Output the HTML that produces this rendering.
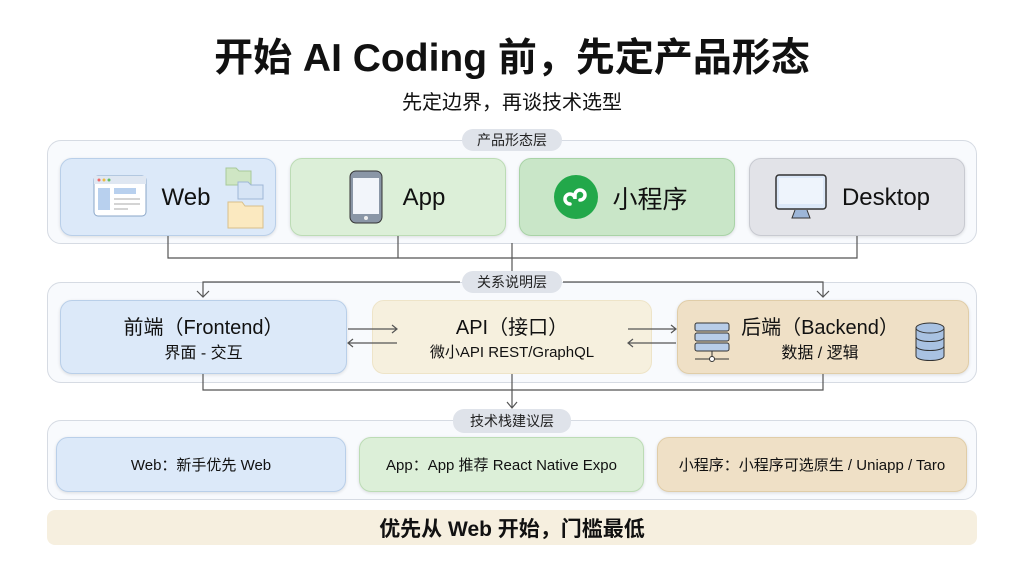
<!DOCTYPE html>
<html><head><meta charset="utf-8"><style>
*{margin:0;padding:0;box-sizing:border-box}
body{width:1024px;height:572px;background:#fff;position:relative;overflow:hidden;font-family:"Liberation Sans","Noto Sans CJK SC",sans-serif;color:#111}
.a{position:absolute}
.t{display:flex;align-items:center;justify-content:center;text-align:center}
.box{position:absolute;border:1px solid #d6dbe3;border-radius:14px;background:#f8fafd}
.card{position:absolute;border-radius:12px;box-shadow:0 1px 3px rgba(0,0,0,.12)}
.pill{position:absolute;height:22px;border-radius:11px;background:#dfe3ea;font-size:14px;display:flex;align-items:center;justify-content:center;color:#222;z-index:3}
.blue{background:#dce9f9;border:1px solid #b9cfe9}
.green{background:#dcefd8;border:1px solid #bcdcb5}
.green2{background:#c9e6c8;border:1px solid #a9d3a7}
.gray{background:#e2e3e8;border:1px solid #c8cad1}
.cream{background:#f6f0de;border:1px solid #eee4c8}
.tan{background:#efe0c6;border:1px solid #e0cda8}
</style></head><body>
<div class="a t" style="left:0;top:31px;width:1024px;height:48px;font-size:39px;font-weight:bold">开始 AI Coding 前，先定产品形态</div>
<div class="a t" style="left:0;top:87px;width:1024px;height:26px;font-size:20px">先定边界，再谈技术选型</div>

<svg class="a" style="left:0;top:0;z-index:2" width="1024" height="572">
<g stroke="#555" stroke-width="1.2" fill="none">
<path d="M168 236V258H857V236M398 236V258M512 243V272"/>
<path d="M460 282H203V297M563 282H823V297"/>
<path d="M197 291l6 6 6-6M817 291l6 6 6-6"/>
<path d="M348 329H397M392 325l5 4-5 4M397 343H348M353 339l-5 4 5 4"/>
<path d="M628 329H676M671 325l5 4-5 4M676 343H628M633 339l-5 4 5 4"/>
<path d="M203 374V390H823V374M512 374V408M507 402l5 6 5-6"/>
</g></svg>

<div class="box" style="left:47px;top:140px;width:930px;height:104px"></div>
<div class="pill" style="left:462px;top:129px;width:100px">产品形态层</div>
<div class="card blue" style="left:60px;top:158px;width:216px;height:78px"></div>
<svg class="a" style="left:93px;top:175px" width="54" height="44"><rect x="1" y="1" width="52" height="40" rx="4" fill="#fff" stroke="#8aa6c8"/><rect x="1" y="1" width="52" height="8" fill="#dfe7f2"/><circle cx="6" cy="5" r="1.5" fill="#e66"/><circle cx="11" cy="5" r="1.5" fill="#eb4"/><circle cx="16" cy="5" r="1.5" fill="#6b6"/><rect x="5" y="13" width="12" height="22" fill="#b8d0ee"/><rect x="21" y="13" width="22" height="6" fill="#b8d0ee"/><path d="M21 24h26M21 29h26M21 34h14" stroke="#aaa"/></svg>
<div class="a t" style="left:158px;top:182px;width:56px;height:32px;font-size:24px">Web</div>
<svg class="a" style="left:224px;top:166px" width="44" height="64"><path d="M2 2h10l3 3h12v14H2z" fill="#cfe6c4" stroke="#a8c99a"/><path d="M14 16h10l3 3h12v14H14z" fill="#d6e4f5" stroke="#9fb7d6"/><path d="M4 36h14l3 4h18v22H4z" fill="#fbe9c0" stroke="#d9c08a"/></svg>
<div class="card green" style="left:290px;top:158px;width:216px;height:78px"></div>
<svg class="a" style="left:349px;top:170px" width="34" height="54"><rect x="1" y="1" width="32" height="52" rx="6" fill="#8a96a6" stroke="#333"/><rect x="4" y="8" width="26" height="36" fill="#f2f5fa"/><circle cx="17" cy="48" r="2" fill="#eee"/></svg>
<div class="a t" style="left:398px;top:182px;width:52px;height:32px;font-size:24px">App</div>
<div class="card green2" style="left:519px;top:158px;width:216px;height:78px"></div>
<svg class="a" style="left:553px;top:174px" width="46" height="46"><circle cx="23" cy="23" r="22" fill="#22a84a"/><path d="M17 30a5 5 0 1 1 5-5v-4a5 5 0 1 1 5 5" stroke="#fff" stroke-width="3.5" fill="none" stroke-linecap="round"/></svg>
<div class="a t" style="left:610px;top:182px;width:80px;height:32px;font-size:25px">小程序</div>
<div class="card gray" style="left:749px;top:158px;width:216px;height:78px"></div>
<svg class="a" style="left:775px;top:174px" width="52" height="46"><rect x="1" y="1" width="50" height="34" rx="3" fill="#dce8f8" stroke="#333" stroke-width="1.5"/><rect x="4" y="4" width="44" height="26" fill="#eef4fc"/><path d="M20 36l-3 8h18l-3-8" fill="#9db6d8" stroke="#333"/></svg>
<div class="a t" style="left:836px;top:182px;width:100px;height:32px;font-size:24px">Desktop</div>

<div class="box" style="left:47px;top:282px;width:930px;height:101px"></div>
<div class="pill" style="left:462px;top:271px;width:100px">关系说明层</div>
<div class="card blue" style="left:60px;top:300px;width:287px;height:74px"></div>
<div class="a t" style="left:60px;top:311px;width:287px;height:28px;font-size:20px">前端（Frontend）</div>
<div class="a t" style="left:60px;top:339px;width:287px;height:24px;font-size:16px">界面 - 交互</div>
<div class="card cream" style="left:372px;top:300px;width:280px;height:74px;box-shadow:none"></div>
<div class="a t" style="left:372px;top:311px;width:280px;height:28px;font-size:20px">API（接口）</div>
<div class="a t" style="left:372px;top:339px;width:280px;height:24px;font-size:15px">微小API REST/GraphQL</div>
<div class="card tan" style="left:677px;top:300px;width:292px;height:74px"></div>
<svg class="a" style="left:694px;top:322px" width="36" height="42"><g fill="#b8cde8" stroke="#333"><rect x="1" y="1" width="34" height="8" rx="2"/><rect x="1" y="11" width="34" height="8" rx="2"/><rect x="1" y="21" width="34" height="8" rx="2"/></g><path d="M18 29v8M1 37h34" stroke="#333"/><circle cx="18" cy="37" r="2.5" fill="#fff" stroke="#333"/></svg>
<div class="a t" style="left:735px;top:311px;width:170px;height:28px;font-size:20px">后端（Backend）</div>
<div class="a t" style="left:735px;top:339px;width:170px;height:24px;font-size:16px">数据 / 逻辑</div>
<svg class="a" style="left:915px;top:322px" width="30" height="40"><g fill="#a9c2e2" stroke="#333"><path d="M1 6v28c0 6 28 6 28 0V6"/><ellipse cx="15" cy="6" rx="14" ry="5"/><path d="M1 15c0 6 28 6 28 0M1 24c0 6 28 6 28 0" fill="none"/></g></svg>

<div class="box" style="left:47px;top:420px;width:930px;height:80px"></div>
<div class="pill" style="left:453px;top:409px;width:118px;height:24px">技术栈建议层</div>
<div class="card blue t" style="left:56px;top:437px;width:290px;height:55px;font-size:15px">Web：新手优先 Web</div>
<div class="card green t" style="left:359px;top:437px;width:285px;height:55px;font-size:15px">App：App 推荐 React Native Expo</div>
<div class="card tan t" style="left:657px;top:437px;width:310px;height:55px;font-size:15px">小程序：小程序可选原生 / Uniapp / Taro</div>

<div class="a t" style="left:47px;top:510px;width:930px;height:35px;border-radius:8px;background:#f6efdf;font-size:21px;font-weight:bold">优先从 Web 开始，门槛最低</div>
</body></html>
